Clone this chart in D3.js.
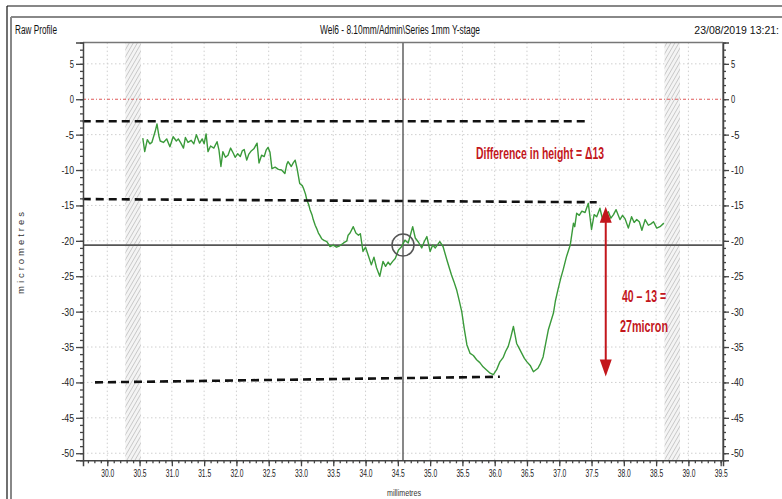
<!DOCTYPE html>
<html>
<head>
<meta charset="utf-8">
<script src="https://cdn.jsdelivr.net/npm/d3@7"></script>
<style>
  html, body { margin: 0; padding: 0; background: #fff; }
  svg { display: block; }
  text { font-family: "Liberation Sans Narrow", "Arial Narrow", "Liberation Sans", Arial, sans-serif; }
</style>
</head>
<body>
<svg id="chart" width="782" height="499"></svg>
<script>
// ---------- DATA ----------
const positionMm = [30.55,30.58,30.62,30.66,30.69,30.74,30.77,30.80,30.82,30.87,30.92,30.97,31.02,31.07,31.10,31.14,31.18,31.21,31.25,31.30,31.34,31.38,31.43,31.47,31.50,31.53,31.56,31.60,31.65,31.70,31.73,31.76,31.79,31.83,31.87,31.91,31.95,31.98,32.02,32.06,32.09,32.12,32.16,32.19,32.23,32.27,32.32,32.35,32.39,32.43,32.46,32.49,32.52,32.55,32.60,32.65,32.70,32.75,32.78,32.80,32.85,32.88,32.91,32.94,32.98,33.02,33.04,33.07,33.09,33.12,33.14,33.17,33.19,33.22,33.24,33.27,33.29,33.32,33.35,33.40,33.45,33.50,33.55,33.60,33.66,33.71,33.73,33.76,33.81,33.85,33.89,33.92,33.96,34.00,34.04,34.09,34.13,34.17,34.22,34.27,34.31,34.35,34.38,34.42,34.46,34.51,34.56,34.61,34.66,34.70,34.73,34.77,34.82,34.87,34.91,34.95,35.00,35.04,35.08,35.12,35.15,35.20,35.26,35.30,35.33,35.37,35.41,35.45,35.49,35.53,35.57,35.62,35.67,35.72,35.77,35.82,35.87,35.93,35.98,36.03,36.08,36.13,36.17,36.21,36.25,36.29,36.34,36.38,36.42,36.46,36.50,36.55,36.60,36.67,36.71,36.75,36.79,36.83,36.87,36.91,36.94,36.98,37.02,37.06,37.11,37.17,37.22,37.24,37.27,37.31,37.35,37.40,37.45,37.50,37.54,37.58,37.63,37.68,37.72,37.76,37.80,37.84,37.88,37.94,37.98,38.02,38.07,38.12,38.16,38.20,38.24,38.28,38.33,38.38,38.42,38.46,38.51,38.56,38.62];
const heightUm = [-5.5,-7.4,-5.7,-6.3,-6.1,-4.6,-3.5,-5.2,-5.9,-6.1,-5.6,-6.7,-5.3,-5.9,-5.6,-6.2,-6.9,-5.4,-6.1,-5.8,-6.3,-5.0,-6.2,-5.6,-6.3,-4.9,-7.4,-6.6,-6.9,-6.0,-7.2,-9.5,-7.4,-8.2,-7.9,-6.9,-7.6,-8.2,-7.7,-8.1,-7.3,-7.1,-8.6,-7.8,-7.3,-7.0,-6.2,-9.0,-7.9,-8.1,-7.2,-6.8,-7.5,-9.8,-9.6,-9.9,-10.0,-10.5,-9.2,-8.8,-9.5,-9.0,-8.6,-9.8,-11.9,-12.2,-12.6,-13.4,-14.2,-14.9,-15.6,-16.3,-17.0,-17.8,-18.2,-18.9,-19.2,-19.7,-19.9,-20.1,-20.8,-20.6,-20.9,-20.7,-20.3,-20.0,-19.2,-18.9,-18.0,-18.9,-19.2,-19.0,-21.5,-20.9,-22.0,-23.4,-22.3,-23.8,-25.0,-22.9,-23.6,-23.0,-23.4,-22.9,-22.5,-21.3,-20.8,-19.9,-20.3,-19.0,-18.0,-19.6,-20.2,-21.0,-20.1,-19.4,-21.5,-20.6,-21.0,-20.5,-20.1,-20.8,-22.7,-23.9,-24.8,-25.8,-26.9,-28.4,-30.0,-32.5,-34.7,-35.9,-36.2,-36.8,-37.2,-37.8,-38.2,-38.7,-38.9,-38.2,-37.1,-36.5,-35.6,-34.9,-33.6,-32.1,-34.5,-35.2,-35.9,-36.6,-37.1,-37.6,-38.5,-38.0,-37.3,-36.4,-34.5,-32.6,-31.4,-30.2,-28.5,-26.9,-25.4,-24.1,-22.3,-20.6,-17.5,-18.0,-16.1,-16.4,-15.8,-16.0,-14.7,-18.4,-16.3,-16.6,-15.4,-17.3,-16.2,-15.9,-16.8,-16.3,-15.6,-17.0,-16.4,-16.9,-18.2,-16.6,-17.4,-17.0,-17.3,-18.5,-17.0,-17.8,-17.6,-17.3,-18.2,-18.0,-17.5];

const xTicks = [30.0,30.5,31.0,31.5,32.0,32.5,33.0,33.5,34.0,34.5,35.0,35.5,36.0,36.5,37.0,37.5,38.0,38.5,39.0,39.5];
const yTicks = [5,0,-5,-10,-15,-20,-25,-30,-35,-40,-45,-50];

// reference (dashed) lines in mm / micrometres
const refLineTopMm = [29.62, 37.43];      const refLineTopUm = [-3.1, -3.1];
const refLineMidMm = [29.62, 37.58];      const refLineMidUm = [-14.1, -14.55];
const refLineLowMm = [29.81, 36.08];      const refLineLowUm = [-40.0, -39.2];

// excluded (hatched) zones in mm
const hatchStartMm = [30.28, 38.63];
const hatchEndMm   = [30.52, 38.87];

// cursor
const cursorMm = 34.58, cursorUm = -20.6;

// arrow (mm, um)
const arrowMm = 37.72, arrowTopUm = -15.17, arrowBottomUm = -39.18;

const titleLeft = "Raw Profile";
const titleCenter = "Wel6 - 8.10mm/Admin\\Series 1mm Y-stage";
const titleRight = "23/08/2019 13:21:";
const annotation1 = "Difference in height = Δ13";
const annotation2 = "40 – 13 =";
const annotation3 = "27micron";

// ---------- LAYOUT ----------
const svg = d3.select("#chart");
const L = 83, R = 723, T = 42.6, B = 460.3;

const x = d3.scaleLinear().domain([29.624, 39.536]).range([L, R]);
const y = d3.scaleLinear().domain([-51, 8]).range([B, T]);

// outer frames
svg.append("line").attr("x1", 7).attr("x2", 782).attr("y1", 6).attr("y2", 6).attr("stroke", "#111").attr("stroke-width", 1.2);
svg.append("line").attr("x1", 7).attr("x2", 7).attr("y1", 6).attr("y2", 499).attr("stroke", "#111").attr("stroke-width", 1.2);
svg.append("line").attr("x1", 11).attr("x2", 782).attr("y1", 17).attr("y2", 17).attr("stroke", "#888").attr("stroke-width", 2);
svg.append("line").attr("x1", 11).attr("x2", 11).attr("y1", 17).attr("y2", 499).attr("stroke", "#888").attr("stroke-width", 2);

// header
svg.append("text").attr("x", 15).attr("y", 34).attr("font-size", 12).attr("fill", "#111")
  .attr("textLength", 42).attr("lengthAdjust", "spacingAndGlyphs").text(titleLeft);
svg.append("text").attr("x", 320).attr("y", 34).attr("font-size", 12).attr("fill", "#111")
  .attr("textLength", 160).attr("lengthAdjust", "spacingAndGlyphs").text(titleCenter);
svg.append("text").attr("x", 779).attr("y", 34).attr("font-size", 10.5).attr("fill", "#111")
  .attr("text-anchor", "end").text(titleRight);

// hatch pattern
const defs = svg.append("defs");
const pat = defs.append("pattern").attr("id", "hatch").attr("patternUnits", "userSpaceOnUse")
  .attr("width", 3.5).attr("height", 3.5).attr("patternTransform", "rotate(30)");
pat.append("rect").attr("width", 3.5).attr("height", 3.5).attr("fill", "#f4f4f4");
pat.append("line").attr("x1", 0).attr("y1", 0).attr("x2", 0).attr("y2", 3.5).attr("stroke", "#a8a8a8").attr("stroke-width", 1);

const clip = defs.append("clipPath").attr("id", "plotclip");
clip.append("rect").attr("x", L).attr("y", T).attr("width", R - L).attr("height", B - T);

// plot background
svg.append("rect").attr("x", L).attr("y", T).attr("width", R - L).attr("height", B - T).attr("fill", "#fff");

// grid
const grid = svg.append("g");
grid.selectAll("line.vg").data(xTicks.filter(d => d < 39.5)).join("line")
  .attr("x1", d => x(d)).attr("x2", d => x(d)).attr("y1", T).attr("y2", B)
  .attr("stroke", "#cfcfcf").attr("stroke-width", 1).attr("stroke-dasharray", "1.5,2.5");
grid.selectAll("line.hg").data(yTicks.filter(d => d !== 0)).join("line")
  .attr("x1", L).attr("x2", R).attr("y1", d => y(d)).attr("y2", d => y(d))
  .attr("stroke", "#cfcfcf").attr("stroke-width", 1).attr("stroke-dasharray", "1.5,2.5");

// hatched zones
svg.append("g").selectAll("rect").data(hatchStartMm).join("rect")
  .attr("x", (d) => x(d)).attr("width", (d, i) => x(hatchEndMm[i]) - x(d))
  .attr("y", T).attr("height", B - T).attr("fill", "url(#hatch)");

// zero line
svg.append("line").attr("x1", L).attr("x2", R).attr("y1", y(0)).attr("y2", y(0))
  .attr("stroke", "#e05a5a").attr("stroke-width", 1.2).attr("stroke-dasharray", "3,2,1,2");

// cursor
svg.append("line").attr("x1", L).attr("x2", R).attr("y1", y(cursorUm)).attr("y2", y(cursorUm))
  .attr("stroke", "#555").attr("stroke-width", 1.6);
svg.append("line").attr("x1", x(cursorMm)).attr("x2", x(cursorMm)).attr("y1", T).attr("y2", B)
  .attr("stroke", "#555").attr("stroke-width", 1.4);

// profile
const pts = positionMm.map((d, i) => [d, heightUm[i]]);
const lineGen = d3.line().x(d => x(d[0])).y(d => y(d[1]));
svg.append("path").datum(pts).attr("d", lineGen).attr("fill", "none")
  .attr("stroke", "#3a9a3a").attr("stroke-width", 1.4).attr("stroke-linejoin", "round")
  .attr("clip-path", "url(#plotclip)");

// cursor circle
svg.append("circle").attr("cx", x(cursorMm)).attr("cy", y(cursorUm)).attr("r", 11)
  .attr("fill", "none").attr("stroke", "#555").attr("stroke-width", 1.5);

// dashed reference lines
const refs = [[refLineTopMm, refLineTopUm], [refLineMidMm, refLineMidUm], [refLineLowMm, refLineLowUm]];
svg.append("g").selectAll("line").data(refs).join("line")
  .attr("x1", d => x(d[0][0])).attr("y1", d => y(d[1][0]))
  .attr("x2", d => x(d[0][1])).attr("y2", d => y(d[1][1]))
  .attr("stroke", "#111").attr("stroke-width", 2.6).attr("stroke-dasharray", "8,5");

// plot border (top/right)
svg.append("line").attr("x1", L).attr("x2", R).attr("y1", T).attr("y2", T).attr("stroke", "#777").attr("stroke-width", 1.5);
svg.append("line").attr("x1", R).attr("x2", R).attr("y1", T).attr("y2", B).attr("stroke", "#777").attr("stroke-width", 1.5);

// axes
const minorY = d3.range(-51, 9, 1);
const minorX = d3.range(296, 396, 1).map(d => d / 10).filter(d => d >= 29.624 && d <= 39.536);

function styleAxis(g) {
  g.selectAll("path.domain").attr("stroke", "#444").attr("stroke-width", 1.5);
  g.selectAll(".tick line").attr("stroke", "#444").attr("stroke-width", 1.3);
  g.selectAll(".tick text").attr("fill", "#222").attr("font-size", 10.5)
    .style("font-family", '"Liberation Sans Narrow", "Arial Narrow", "Liberation Sans", sans-serif');
}
const fmtY = d => String(d);
const fmtX = d => d.toFixed(1);

const gL = svg.append("g").attr("transform", `translate(${L},0)`)
  .call(d3.axisLeft(y).tickValues(yTicks).tickSize(7).tickPadding(2).tickFormat(fmtY)).call(styleAxis);
gL.selectAll(".tick text").attr("textLength", d => String(d).length * 4.2).attr("lengthAdjust", "spacingAndGlyphs");
svg.append("g").attr("transform", `translate(${L},0)`)
  .call(d3.axisLeft(y).tickValues(minorY).tickSize(3).tickFormat("")).call(styleAxis)
  .select("path.domain").remove();

const gR = svg.append("g").attr("transform", `translate(${R},0)`)
  .call(d3.axisRight(y).tickValues(yTicks).tickSize(6).tickPadding(2).tickFormat(fmtY)).call(styleAxis);
gR.selectAll(".tick text").attr("textLength", d => String(d).length * 4.2).attr("lengthAdjust", "spacingAndGlyphs");
svg.append("g").attr("transform", `translate(${R},0)`)
  .call(d3.axisRight(y).tickValues(minorY).tickSize(3).tickFormat("")).call(styleAxis)
  .select("path.domain").remove();

const gB = svg.append("g").attr("transform", `translate(0,${B})`)
  .call(d3.axisBottom(x).tickValues(xTicks).tickSize(6).tickPadding(3).tickFormat(fmtX)).call(styleAxis);
gB.selectAll(".tick text").attr("textLength", 13).attr("lengthAdjust", "spacingAndGlyphs");
svg.append("g").attr("transform", `translate(0,${B})`)
  .call(d3.axisBottom(x).tickValues(minorX).tickSize(3).tickFormat("")).call(styleAxis)
  .select("path.domain").remove();

// axis titles
svg.append("text").attr("x", 404).attr("y", 496).attr("text-anchor", "middle").attr("font-size", 9.5)
  .attr("fill", "#333").attr("textLength", 34).attr("lengthAdjust", "spacingAndGlyphs").text("millimetres");
svg.append("text").attr("transform", "translate(24,253) rotate(-90)").attr("text-anchor", "middle")
  .attr("font-size", 9.5).attr("fill", "#333").style("font-family", '"Liberation Sans", Arial, sans-serif')
  .attr("textLength", 82).attr("lengthAdjust", "spacing").text("micrometres");

// red arrow
const red = "#c3161c";
const ax = x(arrowMm), ay1 = y(arrowTopUm), ay2 = y(arrowBottomUm);
svg.append("line").attr("x1", ax).attr("x2", ax).attr("y1", ay1 + 10).attr("y2", ay2 - 10)
  .attr("stroke", red).attr("stroke-width", 2);
svg.append("path").attr("d", `M${ax},${ay1} L${ax - 6},${ay1 + 16} L${ax + 6},${ay1 + 16} Z`).attr("fill", red);
svg.append("path").attr("d", `M${ax},${ay2} L${ax - 6},${ay2 - 17} L${ax + 6},${ay2 - 17} Z`).attr("fill", red);

// annotations
const annStyle = s => s.attr("fill", red).attr("font-size", 17).attr("font-weight", "bold")
  .attr("lengthAdjust", "spacingAndGlyphs");
svg.append("text").attr("x", 476).attr("y", 159).attr("textLength", 128).call(annStyle).text(annotation1);
svg.append("text").attr("x", 622).attr("y", 302).attr("textLength", 44).call(annStyle).text(annotation2);
svg.append("text").attr("x", 620).attr("y", 332).attr("textLength", 48).call(annStyle).text(annotation3);
</script>
</body>
</html>
